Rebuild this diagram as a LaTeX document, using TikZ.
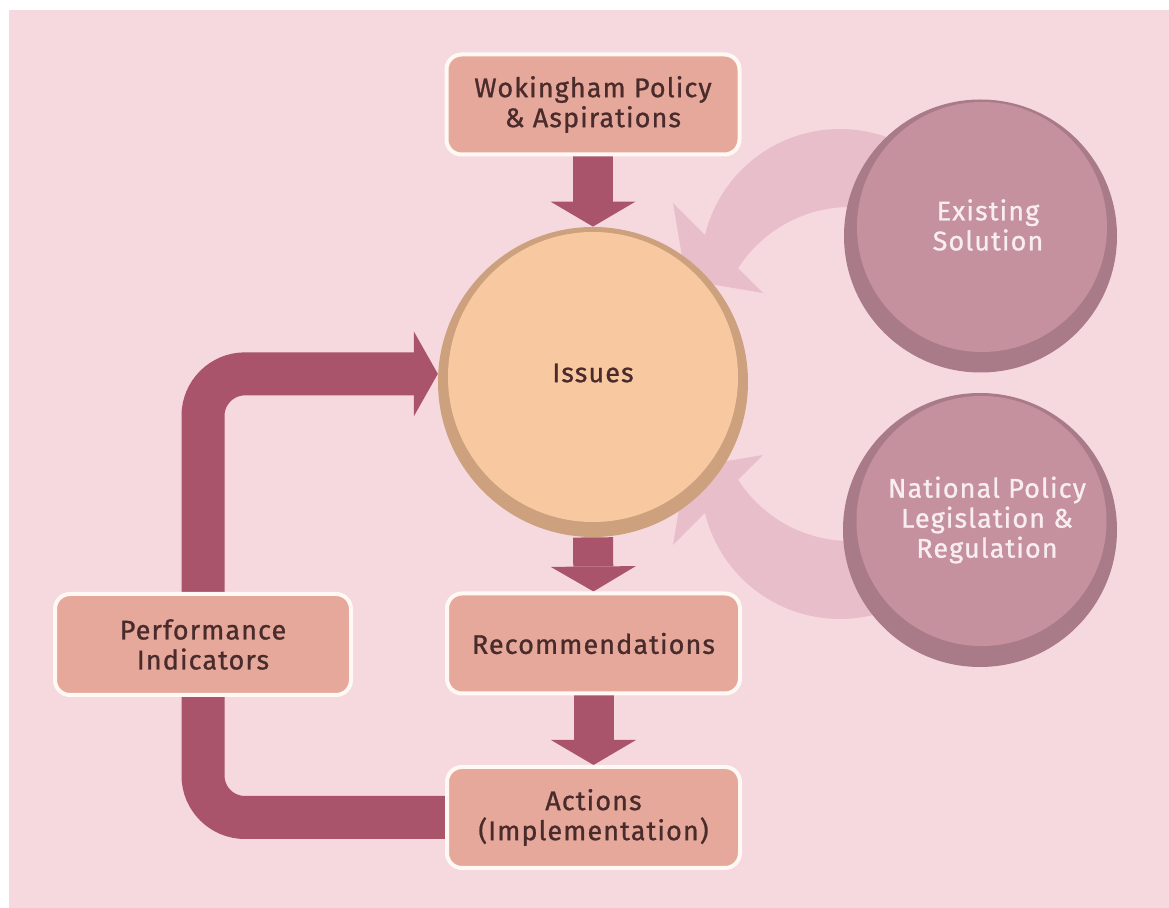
\documentclass[tikz,border=0pt]{standalone}
\usepackage{fontspec}
\setmainfont{Fira Sans}[FakeBold=0.9, LetterSpace=4]
\usetikzlibrary{arrows.meta,calc}
\definecolor{bgpink}{HTML}{F5D9DF}
\definecolor{boxfill}{HTML}{E5A89B}
\definecolor{boxline}{HTML}{FFF8F3}
\definecolor{txt}{HTML}{4A2B2B}
\definecolor{darr}{HTML}{A9546A}
\definecolor{issout}{HTML}{CDA07E}
\definecolor{issin}{HTML}{F8C8A0}
\definecolor{purout}{HTML}{A97B89}
\definecolor{purin}{HTML}{C5919E}
\definecolor{purtxt}{HTML}{F8EEF0}
\definecolor{larr}{HTML}{E8BECA}
\pgfdeclarelayer{bg}
\pgfdeclarelayer{conn}
\pgfsetlayers{bg,conn,main}
\begin{document}
\begin{tikzpicture}[x=0.5pt,y=-0.5pt,
  txtfont/.style={font=\fontsize{13.5}{15}\selectfont},
  box/.style={rectangle, rounded corners=7.5pt, fill=boxfill, draw=boxline,
    line width=2pt, text=txt, align=center, inner sep=0pt,
    minimum width=146.5pt, minimum height=50pt, txtfont},
  issuecirc/.style={circle, fill=issout, inner sep=0pt, minimum size=155pt,
    path picture={\fill[issin] ($(path picture bounding box.center)+(0,-5)$) circle (145);}},
  purcirc/.style={circle, fill=purout, inner sep=0pt, minimum size=137pt,
    path picture={\fill[purin] ($(path picture bounding box.center)+(1.5,-9)$) circle (125);}},
  purlabel/.style={align=center, text=purtxt, txtfont},
  isslabel/.style={align=center, text=txt, txtfont},
  darrow/.style={draw=darr, line width=20pt,
    -{Triangle[length=12.5pt,width=42.5pt,line width=0pt]}},
  fbarrow/.style={draw=darr, line width=21.5pt, rounded corners=21pt,
    -{Triangle[length=12pt,width=42.5pt,line width=0pt]}},
  lightarrow/.style={fill=larr}
]
\useasboundingbox (0,0) rectangle (1169,908);
\begin{pgfonlayer}{bg}
  \fill[bgpink] (9,10) rectangle (1169,908);
\end{pgfonlayer}

% nodes
\node[box] (wok) at (593,104.5) {Wokingham Policy\\\& Aspirations};
\node[issuecirc, label={[isslabel, yshift=4.5pt]center:Issues}] (issues) at (593,382) {};
\node[box] (rec) at (593.5,643.5) {Recommendations};
\node[box, minimum height=50.5pt] (act) at (593.5,817.5) {Actions\\(Implementation)};
\node[box, minimum width=148pt, minimum height=50.5pt] (pi) at (203,644.5) {Performance\\Indicators};
\node[purcirc, minimum size=136.5pt,
  label={[purlabel, xshift=3.75pt, yshift=5.5pt]center:Existing\\Solution}] (es) at (980.5,236) {};
\node[purcirc,
  label={[purlabel, xshift=3.5pt, yshift=5pt]center:National Policy\\Legislation \&\\Regulation}] (np) at (980,530) {};

% connectors
\begin{pgfonlayer}{conn}
  \fill[lightarrow] ($(840,268)+(-54.9:139)$) arc[start angle=-54.9, end angle=-166.3, radius=139]
    -- (673,203) -- (686,280) -- (763,293)
    -- ($(850,340)+(-147.3:133)$) arc[start angle=-147.3, end angle=-80, radius=133] -- cycle;
  \fill[lightarrow] ($(840,480)+(54.9:139)$) arc[start angle=54.9, end angle=166.3, radius=139]
    -- (673,545) -- (686,468) -- (763,455)
    -- ($(850,408)+(147.3:133)$) arc[start angle=147.3, end angle=80, radius=133] -- cycle;
  \draw[darrow] (wok.south) -- (issues.north);
  \draw[darrow] (issues.south) -- (rec.north);
  \draw[darrow] (rec.south) -- (act.north);
  \coordinate (fbtop) at (pi.center |- issues.177);
  \draw[fbarrow] (act.west) -| (fbtop) -- (issues.177);
\end{pgfonlayer}
\end{tikzpicture}
\end{document}
